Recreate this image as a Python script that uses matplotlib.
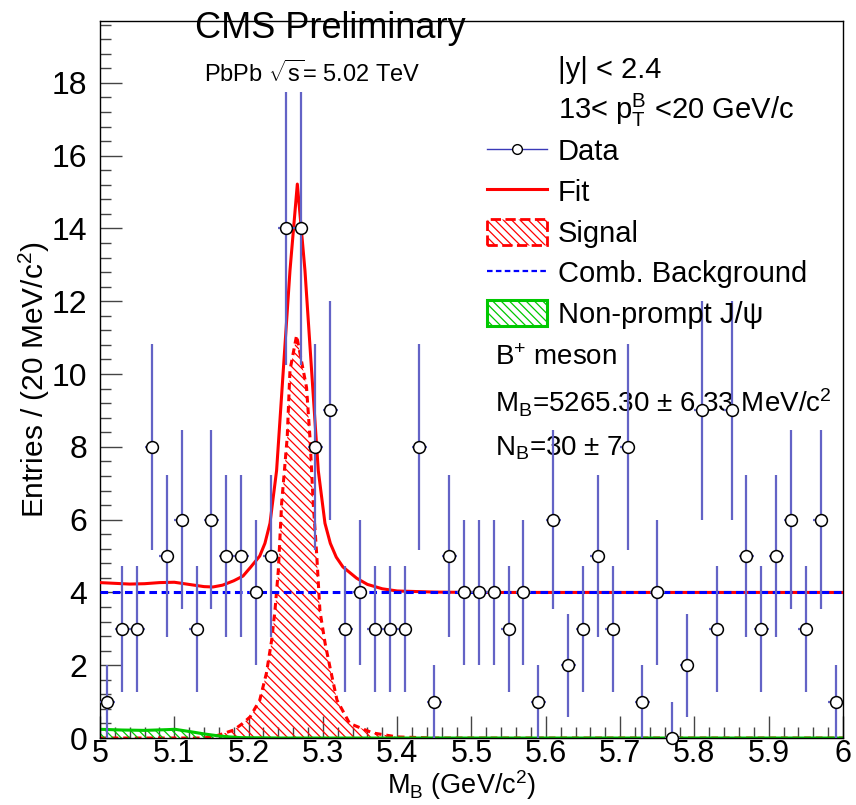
import numpy as np
import matplotlib
matplotlib.use("Agg")
import matplotlib.pyplot as plt
from matplotlib.lines import Line2D
from matplotlib.patches import Patch
from matplotlib.ticker import MultipleLocator, FixedLocator

plt.rcParams['font.family'] = ['Liberation Sans', 'DejaVu Sans']
plt.rcParams['mathtext.fontset'] = 'custom'
plt.rcParams['mathtext.rm'] = 'Liberation Sans'
plt.rcParams['mathtext.it'] = 'Liberation Sans'
plt.rcParams['mathtext.bf'] = 'Liberation Sans:bold'
plt.rcParams['hatch.linewidth'] = 0.9

# data histogram, 20 MeV bins
bin_centers = np.round(np.linspace(5.01, 5.99, 50), 2)
counts = np.array([1, 3, 3, 8, 5, 6, 3, 6, 5, 5,
                   4, 5, 14, 14, 8, 9, 3, 4, 3, 3,
                   3, 8, 1, 5, 4, 4, 4, 3, 4, 1,
                   6, 2, 3, 5, 3, 8, 1, 4, 0, 2,
                   9, 3, 9, 5, 3, 5, 6, 3, 6, 1])

# fit curves
fit_x = [5.000, 5.020, 5.040, 5.060, 5.080, 5.100, 5.120, 5.140, 5.152, 5.165,
         5.180, 5.1925, 5.203, 5.215, 5.222, 5.2288, 5.2377, 5.2467, 5.2557, 5.2656,
         5.2759, 5.2848, 5.2938, 5.3028, 5.310, 5.318, 5.327, 5.3455, 5.360, 5.380,
         5.400, 5.450, 5.500, 6.000]
fit_y = [4.27, 4.25, 4.23, 4.24, 4.27, 4.28, 4.22, 4.16, 4.15, 4.20,
         4.32, 4.45, 4.70, 5.00, 5.35, 5.90, 7.35, 10.1, 12.84, 15.22,
         12.84, 10.1, 7.35, 5.90, 5.35, 4.97, 4.70, 4.39, 4.22, 4.10,
         4.04, 4.01, 4.00, 4.00]

sig_x = [5.000, 5.140, 5.160, 5.180, 5.192, 5.202, 5.215, 5.224, 5.231, 5.2355,
         5.240, 5.2445, 5.252, 5.2557, 5.2646, 5.278, 5.2826, 5.287, 5.2916,
         5.296, 5.303, 5.310, 5.319, 5.336, 5.367, 5.400, 5.450, 6.000]
sig_y = [0.0, 0.0, 0.08, 0.22, 0.40, 0.58, 1.04, 1.78, 2.68, 3.5,
         4.6, 6.45, 8.26, 10.1, 11.06, 9.63, 8.26, 6.45, 5.07,
         3.5, 2.6, 1.9, 1.04, 0.40, 0.14, 0.03, 0.0, 0.0]

bkg_x = [5.0, 6.0]
bkg_y = [4.0, 4.0]

np_x = [5.000, 5.030, 5.060, 5.090, 5.101, 5.123, 5.141, 5.159, 5.175, 5.190, 5.250, 6.000]
np_y = [0.24, 0.22, 0.21, 0.23, 0.24, 0.17, 0.11, 0.06, 0.03, 0.01, 0.0, 0.0]

err_lo = np.sqrt(counts)
err_hi = np.sqrt(np.maximum(counts, 1))

data_col = '#6363c6'
green = '#00c800'

fig = plt.figure(figsize=(8.56, 8.05), dpi=100)
ax = fig.add_axes([0.1168, 0.0832, 0.868, 0.8907])

# components
ax.fill_between(sig_x, 0, sig_y, facecolor='none', edgecolor='red', hatch='\\\\\\\\', lw=0, zorder=2)
ax.plot(sig_x, sig_y, color='red', lw=2.2, ls=(0, (2.2, 1.6)), zorder=2)
ax.fill_between(np_x, 0, np_y, facecolor='none', edgecolor=green, hatch='\\\\\\\\', lw=0, zorder=2)
ax.plot(np_x, np_y, color=green, lw=2.2, zorder=2)
ax.plot(fit_x, fit_y, color='red', lw=2.2, zorder=3)
ax.plot(bkg_x, bkg_y, color='blue', lw=2.2, ls=(0, (2.5, 1.5)), zorder=3)

# data
eb = ax.errorbar(bin_centers, counts, yerr=[err_lo, err_hi], xerr=0.01, fmt='o',
                 ms=8.5, mfc='white', mec='black', mew=1.1, ecolor=data_col,
                 elinewidth=1.6, capsize=0, zorder=5)
eb[0].set_clip_on(False)

ax.set_xlim(5, 6)
ax.set_ylim(0, 19.7)
ax.xaxis.set_major_locator(FixedLocator([5.0, 5.1, 5.2, 5.3, 5.4, 5.5, 5.6, 5.7, 5.8, 5.9, 6.0]))
ax.set_xticklabels(['5', '5.1', '5.2', '5.3', '5.4', '5.5', '5.6', '5.7', '5.8', '5.9', '6'])
ax.xaxis.set_minor_locator(MultipleLocator(0.02))
ax.yaxis.set_major_locator(MultipleLocator(2))
ax.yaxis.set_minor_locator(MultipleLocator(0.4))
ax.tick_params(which='both', direction='in', top=False, right=False, color='#444444', width=1)
ax.tick_params(which='major', length=16, labelsize=23)
ax.tick_params(which='minor', length=8)
ax.tick_params(axis='y', pad=9)
ax.tick_params(axis='x', pad=1, labelsize=22)
for s in ax.spines.values():
    s.set_linewidth(1.0)

ax.set_ylabel('Entries / (20 MeV/c$^{2}$)', fontsize=21.5)
ax.yaxis.set_label_coords(-0.064, 0.5)
ax.set_xlabel('M$_{\\mathrm{B}}$ (GeV/c$^{2}$)', fontsize=19.5)
ax.xaxis.set_label_coords(0.486, -0.0898)
ax.xaxis.label.set_va('bottom')

ax.text(0.31, 0.989, 'CMS Preliminary', transform=ax.transAxes, fontsize=26,
        ha='center', va='center', zorder=1, clip_on=False)
ax.text(0.14, 0.926, 'PbPb $\\sqrt{s}$= 5.02 TeV', transform=ax.transAxes, fontsize=17,
        ha='left', va='center')

ax.text(0.616, 0.932, '|y| < 2.4', transform=ax.transAxes, fontsize=21, ha='left', va='center')
ax.text(0.616, 0.876, '13< p$_{\\mathrm{T}}^{\\mathrm{B}}$ <20 GeV/c', transform=ax.transAxes,
        fontsize=21, ha='left', va='center')

handles = [
    Line2D([], [], color='#3a3ab8', lw=1, marker='o', ms=7, mfc='white', mec='black', mew=1),
    Line2D([], [], color='red', lw=2.2),
    Patch(facecolor='none', edgecolor='red', hatch='\\\\\\\\', ls='--', lw=2),
    Line2D([], [], color='blue', lw=1.6, ls=(0, (2.5, 1.5))),
    Patch(facecolor='none', edgecolor=green, hatch='\\\\\\\\', lw=2.2),
]
labels = ['Data', 'Fit', 'Signal', 'Comb. Background', 'Non-prompt J/\u03c8']
leg = ax.legend(handles, labels, loc='upper left', bbox_to_anchor=(0.521, 0.838),
                frameon=False, fontsize=21, borderpad=0, borderaxespad=0,
                handlelength=2.05, handleheight=1.0, handletextpad=0.38, labelspacing=0.40)

ax.text(0.532, 0.530, 'B$^{+}$ meson', transform=ax.transAxes, fontsize=20, ha='left', va='center')
ax.text(0.532, 0.468, 'M$_{\\mathrm{B}}$=5265.30 \u00b1 6.33 MeV/c$^{2}$', transform=ax.transAxes,
        fontsize=20, ha='left', va='center')
ax.text(0.532, 0.404, 'N$_{\\mathrm{B}}$=30 \u00b1 7', transform=ax.transAxes, fontsize=20,
        ha='left', va='center')

fig.savefig('out.png', dpi=100)
